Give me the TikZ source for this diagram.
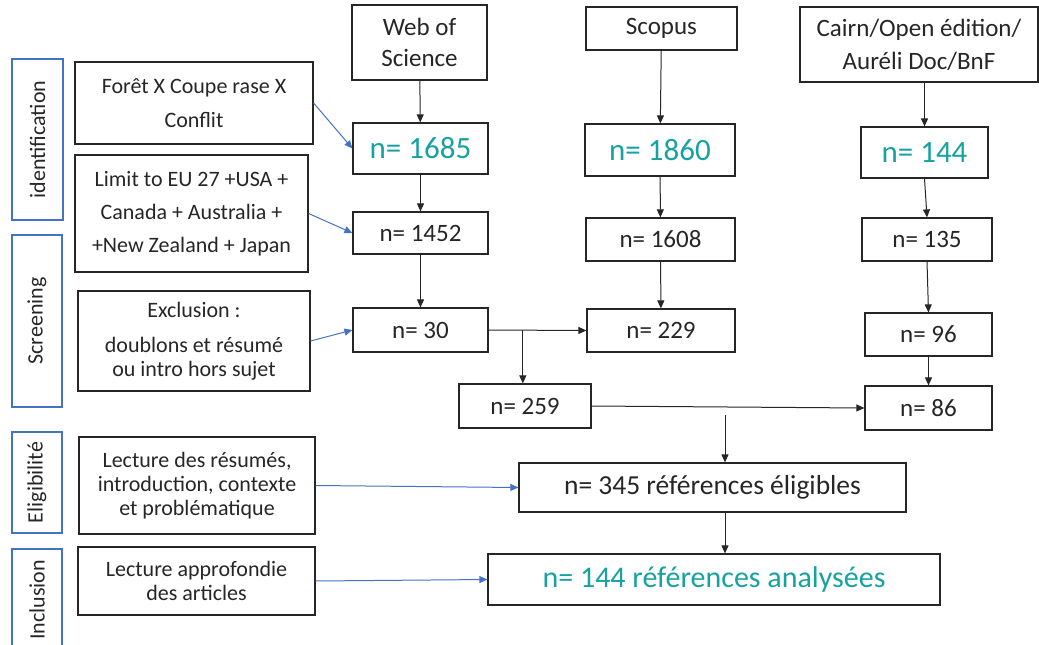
\documentclass[tikz,border=0pt]{standalone}
\usepackage{fontspec}
\setmainfont{Carlito}
\usetikzlibrary{arrows.meta,calc}
\definecolor{tealn}{HTML}{17A2A2}
\definecolor{bluearr}{HTML}{4472C4}
\definecolor{ink}{HTML}{262626}

\tikzset{
    box/.style={draw=ink, line width=1.2pt, text=ink, inner sep=0pt, align=center},
    stage/.style={draw=bluearr, line width=1.4pt, text=ink, inner sep=0pt, rotate=90,
        font=\fontsize{22}{26}\selectfont},
    flow/.style={-{Triangle[length=8pt,width=7pt]}, line width=1pt, draw=ink},
    note/.style={-{Triangle[length=8pt,width=7pt]}, line width=1pt, draw=bluearr},
    txt/.style={font=\fontsize{22}{24}\selectfont},
    num/.style={font=\fontsize{25}{28}\selectfont},
    big/.style={font=\fontsize{31}{34}\selectfont, text=tealn},
}

\begin{document}
\begin{tikzpicture}[x=1pt,y=-1pt]
    \useasboundingbox (0,0) rectangle (1039,645);

    % stages
    \node[stage, minimum width=161pt, minimum height=51pt] (idlab) at (37.5,139.5) {identification};
    \node[stage, minimum width=172pt, minimum height=50pt] (scrlab) at (37,321) {Screening};
    \node[stage, minimum width=101pt, minimum height=50pt] (eliglab) at (37,482.5) {Eligibilité};
    \node[stage, minimum width=102pt, minimum height=50pt] (incllab) at (37,600) {Inclusion};

    % left notes
    \node[box, minimum width=238pt, minimum height=82pt, font=\fontsize{22}{34}\selectfont]
        (foret) at (194,103) {Forêt X Coupe rase X\\Conflit};
    \node[box, minimum width=233pt, minimum height=117pt, font=\fontsize{22}{33}\selectfont]
        (limit) at (191.5,213.5) {Limit to EU 27 +USA +\\Canada + Australia +\\+New Zealand + Japan};
    \node[box, txt, minimum width=232pt, minimum height=100pt]
        (excl) at (194,341) {Exclusion :\\[11pt]doublons et résumé\\ou intro hors sujet};
    \node[box, txt, minimum width=236pt, minimum height=97pt]
        (lectres) at (197,485.5) {Lecture des résumés,\\introduction, contexte\\et problématique};
    \node[box, txt, minimum width=237pt, minimum height=68pt]
        (lectapp) at (196.5,581) {Lecture approfondie\\des articles};

    % sources
    \node[box, font=\fontsize{25}{31}\selectfont, minimum width=135pt, minimum height=75pt]
        (wos) at (419.5,42.5) {Web of\\Science};
    \node[box, num, minimum width=151pt, minimum height=43pt] (scopus) at (661.5,28.5) {Scopus};
    \node[box, font=\fontsize{25}{33}\selectfont, minimum width=238pt, minimum height=75pt]
        (cairn) at (919,44.5) {Cairn/Open édition/\\Auréli Doc/BnF};

    % counts
    \node[box, big, minimum width=135pt, minimum height=51pt] (wa) at (420.5,148.5) {n= 1685};
    \node[box, big, minimum width=150pt, minimum height=52pt] (sa) at (660,150) {n= 1860};
    \node[box, big, minimum width=127pt, minimum height=51pt] (ca) at (924.5,152.5) {n= 144};

    \node[box, num, minimum width=135pt, minimum height=42pt] (wb) at (420.5,233) {n= 1452};
    \node[box, num, minimum width=149pt, minimum height=43pt] (sb) at (660.5,239.5) {n= 1608};
    \node[box, num, minimum width=130pt, minimum height=43pt] (cb) at (927,239.5) {n= 135};

    \node[box, num, minimum width=135pt, minimum height=44pt] (wc) at (420.5,330) {n= 30};
    \node[box, num, minimum width=148pt, minimum height=43pt] (sc) at (661,330.5) {n= 229};
    \node[box, num, minimum width=127pt, minimum height=43pt] (cc) at (928.5,334.5) {n= 96};

    \node[box, num, minimum width=132pt, minimum height=44pt] (wd) at (525,406) {n= 259};
    \node[box, num, minimum width=127pt, minimum height=44pt] (cd) at (928.5,408) {n= 86};

    \node[box, font=\fontsize{27.5}{30}\selectfont, minimum width=387pt, minimum height=49pt]
        (elig) at (712.5,487.5) {n= 345 références éligibles};
    \node[box, big, font=\fontsize{30}{33}\selectfont, minimum width=452pt, minimum height=51pt]
        (incl) at (714,579.5) {n= 144 références analysées};

    % flow
    \draw[flow] (wos) -- (wa);
    \draw[flow] (wa) -- (wb);
    \draw[flow] (wb) -- (wc);
    \draw[flow] (scopus) -- (sa);
    \draw[flow] (sa) -- (sb);
    \draw[flow] (sb) -- (sc);
    \draw[flow] (cairn.south -| ca.north) -- (ca);
    \draw[flow] (ca.south) -- (cb.north);
    \draw[flow] (cb.south) -- (cc.north);
    \draw[flow] (cc) -- (cd);

    \coordinate (br) at ($(wc.east)!0.35!(sc.west)$);
    \draw[flow] (wc.east) -- (sc.west);
    \draw[flow] (br) -- (br |- wd.north);
    \draw[flow] (wd.east) -- (cd.west);

    \coordinate (mid) at (725,415);
    \draw[flow] (mid) -- (mid |- elig.north);
    \draw[flow] (mid |- elig.south) -- (mid |- incl.north);

    % notes
    \draw[note] (foret.east) -- (wa.west);
    \draw[note] (limit.east) -- (wb.west);
    \draw[note] (excl.east) -- (wc.west);
    \draw[note] (lectres.east) -- (elig.west);
    \draw[note] (lectapp.east) -- (incl.west);
\end{tikzpicture}
\end{document}
